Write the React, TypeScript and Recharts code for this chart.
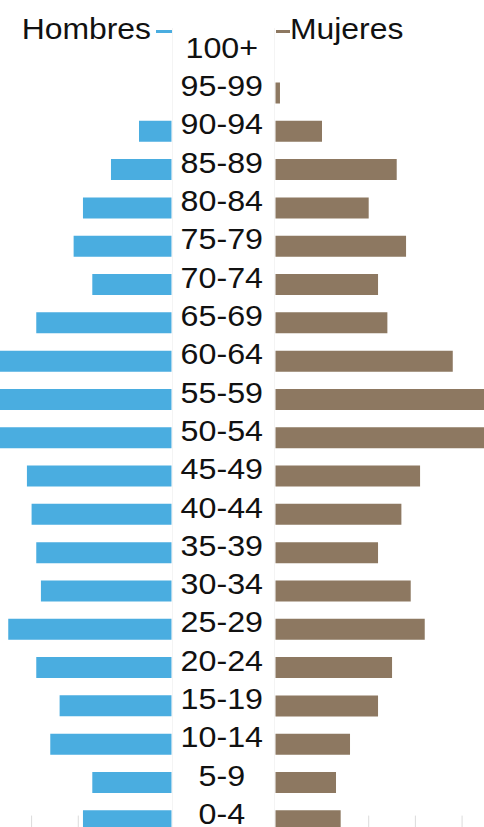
import React from 'react';
import { BarChart, Bar, XAxis, YAxis } from 'recharts';

// ---- data (top row first) ----
const ages = ['100+', '95-99', '90-94', '85-89', '80-84', '75-79', '70-74', '65-69', '60-64', '55-59', '50-54', '45-49', '40-44', '35-39', '30-34', '25-29', '20-24', '15-19', '10-14', '5-9', '0-4'];
const hombres = [0, 0, 7, 13, 19, 21, 17, 29, 40, 42, 41, 31, 30, 29, 28, 35, 29, 24, 26, 17, 19];
const mujeres = [0, 1, 10, 26, 20, 28, 22, 24, 38, 47, 48, 31, 27, 22, 29, 32, 25, 22, 16, 13, 14];
const axisTicks = [20, 30, 40, 50, 60];
const legendLabels = ['Hombres', 'Mujeres'];

const data = ages.map((age, i) => ({ age, hombres: hombres[i], mujeres: mujeres[i] }));

// ---- layout constants ----
const PX = 4.67; // pixels per unit
const TOP = 35.2;
const PLOT_BOTTOM = 838.6;
const AXIS_H = 1;
const CH = PLOT_BOTTOM + AXIS_H;
const MID_L = 171.7;
const MID_R = 275;
const LEFT_OFF = 130;
const LEFT_W = MID_L + LEFT_OFF;
const RIGHT_PLOT_W = 320;
const YAX_W = MID_R - MID_L;
const RIGHT_W = YAX_W + RIGHT_PLOT_W;
const LABEL_CX = 221.5;
const FONT = '"Liberation Sans", Arial, Helvetica, sans-serif';
const BLUE = '#4AADE0';
const BROWN = '#8D7861';

const AgeTick = (props: any) => {
  const { y, payload } = props;
  return (
    <g transform={`translate(${LABEL_CX - MID_L},${y})`}>
      <text transform="scale(1.1,1)" textAnchor="middle" y={3.5} fontSize={29.3} fill="#111" fontFamily={FONT}>
        {payload.value}
      </text>
    </g>
  );
};

export default function App() {
  return (
    <div style={{ position: 'absolute', left: 0, top: 0, width: 484, height: 827, overflow: 'hidden', background: '#fff' }}>
      <svg width={484} height={827} style={{ position: 'absolute', left: 0, top: 0 }}>
        <line x1={172.5} y1={28} x2={172.5} y2={827} stroke="#f4f4f4" />
        <line x1={274.5} y1={28} x2={274.5} y2={827} stroke="#f4f4f4" />
      </svg>
      <div style={{ position: 'absolute', left: -LEFT_OFF, top: 0 }}>
        <BarChart width={LEFT_W} height={CH} data={data} layout="vertical" margin={{ top: TOP, right: 0, bottom: 0, left: 0 }}>
          <XAxis
            type="number"
            reversed
            domain={[0, LEFT_W / PX]}
            allowDataOverflow
            ticks={axisTicks}
            mirror
            height={AXIS_H}
            tickSize={24}
            tickLine={{ stroke: '#dcdcdc' }}
            axisLine={false}
            tickFormatter={() => ''}
          />
          <YAxis type="category" dataKey="age" hide width={0} />
          <Bar dataKey="hombres" fill={BLUE} barSize={21} isAnimationActive={false} />
        </BarChart>
      </div>
      <div style={{ position: 'absolute', left: MID_L, top: 0 }}>
        <BarChart width={RIGHT_W} height={CH} data={data} layout="vertical" margin={{ top: TOP, right: 0, bottom: 0, left: 0 }}>
          <XAxis
            type="number"
            domain={[0, RIGHT_PLOT_W / PX]}
            allowDataOverflow
            ticks={axisTicks}
            mirror
            height={AXIS_H}
            tickSize={24}
            tickLine={{ stroke: '#dcdcdc' }}
            axisLine={false}
            tickFormatter={() => ''}
          />
          <YAxis
            type="category"
            dataKey="age"
            width={YAX_W}
            axisLine={false}
            tickLine={false}
            interval={0}
            tick={<AgeTick />}
          />
          <Bar dataKey="mujeres" fill={BROWN} barSize={21} isAnimationActive={false} />
        </BarChart>
      </div>
      <svg width={484} height={60} style={{ position: 'absolute', left: 0, top: 0 }}>
        <g transform="translate(151,38.5) scale(1.1,1)">
          <text textAnchor="end" fontSize={29} fill="#111" fontFamily={FONT}>{legendLabels[0]}</text>
        </g>
        <rect x={156} y={30} width={16} height={3} fill={BLUE} />
        <rect x={276} y={30} width={14} height={3} fill={BROWN} />
        <g transform="translate(290,38.5) scale(1.1,1)">
          <text textAnchor="start" fontSize={29} fill="#111" fontFamily={FONT}>{legendLabels[1]}</text>
        </g>
      </svg>
    </div>
  );
}
